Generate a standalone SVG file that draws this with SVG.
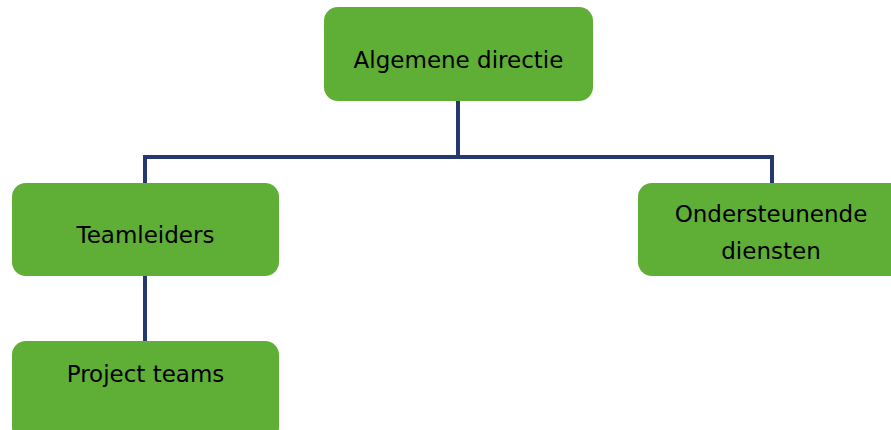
<svg xmlns="http://www.w3.org/2000/svg" width="891" height="430" viewBox="0 0 891 430">
<style>
.box{fill:#5fae36;}
.lbl{font-family:"DejaVu Sans",Verdana,sans-serif;font-size:23px;fill:#000;text-anchor:middle;}
.conn{fill:none;stroke:#26396f;stroke-width:4;stroke-linejoin:miter;}
</style>
<rect width="891" height="430" fill="#fff"/>
<g id="connectors">
<path class="conn" d="M458,101 V157"/>
<path class="conn" d="M145,183 V157 H772 V183"/>
<path class="conn" d="M145,276 V341"/>
</g>
<g id="algemene-directie">
<rect class="box" x="324" y="7" width="269" height="94" rx="14"/>
<text class="lbl" x="458.5" y="68">Algemene directie</text>
</g>
<g id="teamleiders">
<rect class="box" x="12" y="183" width="267" height="93" rx="14"/>
<text class="lbl" x="145.5" y="243">Teamleiders</text>
</g>
<g id="ondersteunende-diensten">
<rect class="box" x="638" y="183" width="267" height="93" rx="14"/>
<text class="lbl" x="771" y="222">Ondersteunende</text>
<text class="lbl" x="771" y="259">diensten</text>
</g>
<g id="project-teams">
<rect class="box" x="12" y="341" width="267" height="100" rx="14"/>
<text class="lbl" x="145.5" y="382">Project teams</text>
</g>
</svg>
